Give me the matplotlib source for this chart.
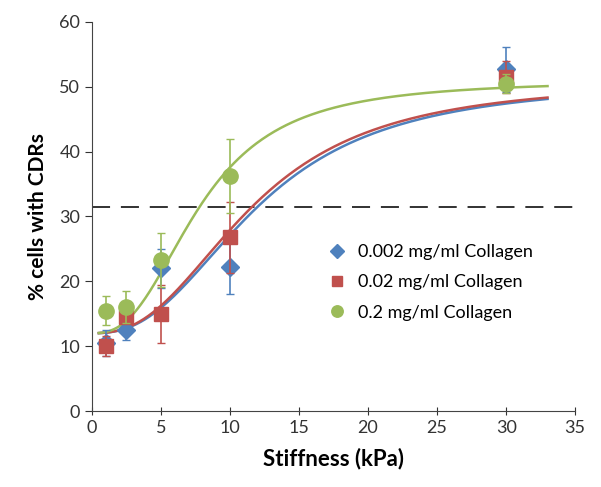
import numpy as np
from matplotlib import pyplot as plt
from matplotlib.lines import Line2D

plt.rcParams['font.family'] = ['Lato', 'DejaVu Sans']

# measured stiffness values (kPa)
stiffness = [1, 2.5, 5, 10, 30]

# % cells with CDRs per collagen density
low_vals = [10.5, 12.5, 22.0, 22.2, 52.7]
low_err = [2.0, 1.5, 3.0, 4.2, 3.5]
mid_vals = [10.0, 14.5, 15.0, 26.8, 51.5]
mid_err = [1.5, 1.0, 4.5, 5.5, 2.5]
high_vals = [15.5, 16.0, 23.3, 36.3, 50.5]
high_err = [2.3, 2.5, 4.2, 5.7, 1.5]

labels = ['0.002 mg/ml Collagen', '0.02 mg/ml Collagen', '0.2 mg/ml Collagen']

# hill fit parameters (base, top, half-point, exponent)
low_fit = (12.0, 51.0, 12.0, 2.5)
mid_fit = (12.0, 51.0, 11.6, 2.5)
high_fit = (12.0, 51.0, 7.8, 2.6)

threshold = 31.5

def hill(x, base, top, k, n):
    return base + (top - base) * x**n / (x**n + k**n)

fig = plt.figure(figsize=(6.01, 4.87), dpi=100)
ax = fig.add_axes([0.153, 0.156, 0.804, 0.799])

colors = ['#4F81BD', '#C0504D', '#9BBB59']
markers = ['D', 's', 'o']
msizes = [9, 10, 11]
xs = np.linspace(0.5, 33, 300)

series = [(low_vals, low_err, low_fit), (mid_vals, mid_err, mid_fit), (high_vals, high_err, high_fit)]
for i, (vals, err, fit) in enumerate(series):
    ax.plot(xs, hill(xs, *fit), color=colors[i], lw=1.8, zorder=2)
for i, (vals, err, fit) in enumerate(series):
    ax.errorbar(stiffness, vals, yerr=err, fmt=markers[i], color=colors[i],
                ms=msizes[i], mec=colors[i], elinewidth=1.2, capsize=3,
                capthick=1.0, zorder=3 + i)

ax.plot([0, 35], [threshold, threshold], color='#222222', lw=1.3,
        dashes=(10, 6), zorder=1)

ax.set_xlim(0, 35)
ax.set_ylim(0, 60)
ax.set_xticks(range(0, 36, 5))
ax.set_yticks(range(0, 61, 10))
for s in ['top', 'right']:
    ax.spines[s].set_visible(False)
for s in ['left', 'bottom']:
    ax.spines[s].set_color('#444444')
ax.tick_params(axis='x', direction='inout', length=6, labelsize=13, colors='#333333')
ax.tick_params(axis='y', direction='out', length=5, labelsize=13, colors='#333333')

ax.set_xlabel('Stiffness (kPa)', fontsize=16, fontweight='bold', labelpad=8)
ax.set_ylabel('% cells with CDRs', fontsize=15, fontweight='bold', labelpad=8)

handles = [Line2D([], [], ls='none', marker=markers[i], color=colors[i],
                  ms=msizes[i] * 0.75) for i in range(3)]
ax.legend(handles, labels, loc='upper left', bbox_to_anchor=(0.445, 0.47),
          frameon=False, fontsize=13, handletextpad=0.4, labelspacing=0.78,
          handlelength=1.5)

fig.savefig('out.png', dpi=100)
